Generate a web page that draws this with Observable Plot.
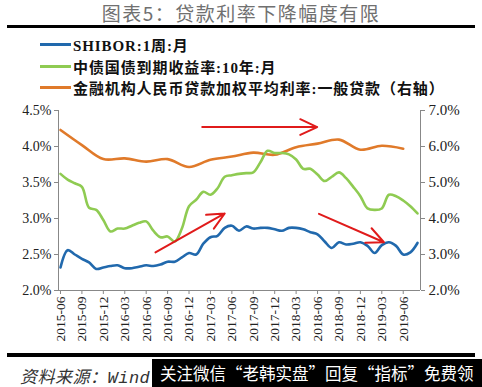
<!DOCTYPE html>
<html>
<head>
<meta charset="utf-8">
<script src="https://cdn.jsdelivr.net/npm/d3@7"></script>
<script src="https://cdn.jsdelivr.net/npm/@observablehq/plot@0.6"></script>
<style>
  html, body { margin: 0; padding: 0; background: #fff; }
  #wrap { position: relative; width: 482px; height: 387px; overflow: hidden; background: #fff; }
  .title { position: absolute; left: 0; top: 1px; width: 482px; text-align: center;
           font-family: "Noto Sans CJK SC", sans-serif; font-size: 19px; color: #707070; letter-spacing: 1.5px; line-height: 24px; }
  .rule { position: absolute; left: 7px; width: 468px; background: #000; }
  .leg { position: absolute; left: 40px; height: 20px; display: flex; align-items: center;
         font-family: "Liberation Serif", "Noto Sans CJK SC", serif; font-weight: bold; font-size: 15px; color: #111; white-space: nowrap; letter-spacing: 0.9px; }
  .sw { display: inline-block; width: 31px; height: 3px; margin-right: 2px; }
  #chart { position: absolute; left: 0; top: 95px; }
  #chart svg text { font-family: "Liberation Serif", serif; }
  .src { position: absolute; left: 20px; top: 364px; font-family: "Noto Sans CJK SC", serif; font-style: italic;
         font-size: 17px; color: #333; line-height: 24px; letter-spacing: 0.5px; }
  .wm { position: absolute; left: 152px; top: 359px; width: 330px; height: 28px; background: #000; color: #fff;
        font-family: "Noto Sans CJK SC", sans-serif; font-size: 16.5px; line-height: 28px; padding-left: 8px; white-space: nowrap; }
</style>
</head>
<body>
<div id="wrap">
  <div class="title">图表5：贷款利率下降幅度有限</div>
  <div class="rule" style="top:25px;height:3px;"></div>
  <div id="legend"></div>
  <div id="chart"></div>
  <div class="rule" style="top:353px;height:4px;"></div>
  <div class="src">资料来源：<span style="font-family:'Liberation Mono',monospace;">Wind</span></div>
  <div class="wm">关注微信“老韩实盘”回复“指标”免费领</div>
</div>
<script>
// Quarterly tick labels (x axis)
const tickLabels = ["2015-06","2015-09","2015-12","2016-03","2016-06","2016-09","2016-12",
  "2017-03","2017-06","2017-09","2017-12","2018-03","2018-06","2018-09","2018-12","2019-03","2019-06"];

// SHIBOR 1W monthly, 2015-06 .. 2019-08 (%)
const shibor = [2.32,2.56,2.50,2.44,2.39,2.30,2.32,2.34,2.35,2.31,2.31,2.33,2.35,2.34,2.36,2.40,2.40,
  2.46,2.52,2.50,2.65,2.74,2.76,2.87,2.90,2.83,2.89,2.86,2.87,2.87,2.85,2.83,2.87,2.87,2.85,2.81,
  2.78,2.68,2.59,2.67,2.64,2.65,2.67,2.62,2.52,2.63,2.67,2.62,2.50,2.53,2.66];

// 10Y CGB yield monthly, 2015-06 .. 2019-08 (%)
const cgb10y = [3.62,3.54,3.49,3.44,3.15,3.12,2.98,2.82,2.86,2.86,2.90,2.94,2.96,2.83,2.74,2.75,2.68,
  2.86,3.17,3.26,3.37,3.33,3.42,3.58,3.60,3.62,3.63,3.64,3.78,3.94,3.91,3.91,3.89,3.82,3.69,3.69,
  3.61,3.52,3.58,3.64,3.56,3.44,3.31,3.14,3.12,3.14,3.33,3.31,3.25,3.17,3.07];

// Weighted average lending rate, general loans, quarterly 2015Q2 .. 2019Q2 (%, right axis)
const loanRate = [6.46,6.04,5.65,5.67,5.58,5.65,5.43,5.63,5.72,5.83,5.77,5.98,6.08,6.19,5.91,6.02,5.94];

// Annotation arrows: [x1 (month index), y1, x2, y2] on left-axis units
const arrowsData = [
  [13.3, 2.53, 23.0, 3.07],
  [19.85, 4.27, 35.95, 4.27],
  [36.2, 3.065, 45.3, 2.67]
];

const leftTicks = [2.0, 2.5, 3.0, 3.5, 4.0, 4.5];
const rightOf = v => 2 + (v - 2) * 2;   // left value -> right axis value
const toLeft = r => 2 + (r - 2) / 2;    // right value -> left axis position

const series = [
  {name: "SHIBOR:1周:月", color: "#2169ad"},
  {name: "中债国债到期收益率:10年:月", color: "#8fcb52"},
  {name: "金融机构人民币贷款加权平均利率:一般贷款（右轴）", color: "#e07a2a"}
];

const legend = document.getElementById("legend");
series.forEach((s, k) => {
  const row = document.createElement("div");
  row.className = "leg";
  row.style.top = [34, 56, 77][k] + "px";
  row.innerHTML = `<span class="sw" style="background:${s.color}"></span><span>${s.name}</span>`;
  legend.appendChild(row);
});

const blueRows = shibor.map((v, i) => ({i, v}));
const greenRows = cgb10y.map((v, i) => ({i, v}));
const orangeRows = loanRate.map((v, q) => ({i: q * 3, v: toLeft(v)}));
const arrows = arrowsData.map(([x1, y1, x2, y2]) => ({x1, y1, x2, y2}));

const chart = Plot.plot({
  width: 482,
  height: 255,
  marginLeft: 58,
  marginRight: 62,
  marginTop: 15,
  marginBottom: 60,
  style: {fontFamily: "Liberation Serif, serif", fontSize: "13.5px", color: "#222", background: "transparent"},
  x: {type: "linear", domain: [-0.28, 50.42]},
  y: {domain: [2.0, 4.5]},
  marks: [
    Plot.axisY({anchor: "left", ticks: leftTicks, tickFormat: d => d.toFixed(1) + "%", tickSize: 4,
      tickPadding: 3, stroke: "#888", fontSize: 14, label: null}),
    Plot.axisY({anchor: "right", ticks: leftTicks, tickFormat: d => rightOf(d).toFixed(1) + "%", tickSize: 4,
      tickPadding: 4, stroke: "#888", fontSize: 15, label: null}),
    Plot.axisX({ticks: d3.range(0, tickLabels.length * 3, 3), tickFormat: d => tickLabels[d / 3],
      tickRotate: -90, tickSize: 4, tickPadding: 2, stroke: "#888", fontSize: 13.5, label: null}),
    Plot.ruleX([-0.28], {stroke: "#888"}),
    Plot.ruleX([50.42], {stroke: "#888"}),
    Plot.ruleY([2.0], {stroke: "#888"}),
    Plot.line(orangeRows, {x: "i", y: "v", stroke: series[2].color, strokeWidth: 2.6, curve: "catmull-rom"}),
    Plot.line(greenRows, {x: "i", y: "v", stroke: series[1].color, strokeWidth: 2.6, curve: "catmull-rom"}),
    Plot.line(blueRows, {x: "i", y: "v", stroke: series[0].color, strokeWidth: 2.6, curve: "catmull-rom"}),
    Plot.arrow(arrows, {x1: "x1", y1: "y1", x2: "x2", y2: "y2", stroke: "#e01b1b", strokeWidth: 2,
      headLength: 14, headAngle: 50})
  ]
});
document.getElementById("chart").appendChild(chart);
</script>
</body>
</html>
